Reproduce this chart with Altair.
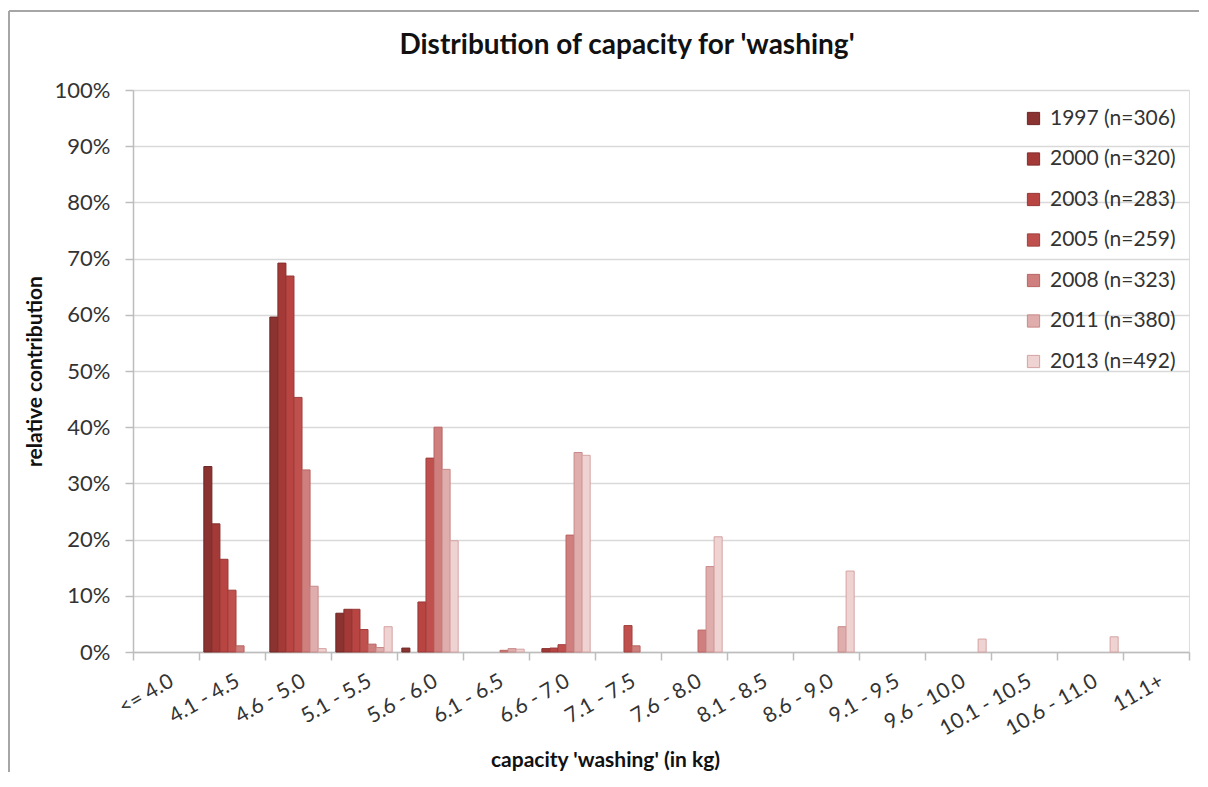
import altair as alt
import pandas as pd

categories = ["<= 4.0", "4.1 - 4.5", "4.6 - 5.0", "5.1 - 5.5", "5.6 - 6.0", "6.1 - 6.5",
              "6.6 - 7.0", "7.1 - 7.5", "7.6 - 8.0", "8.1 - 8.5", "8.6 - 9.0", "9.1 - 9.5",
              "9.6 - 10.0", "10.1 - 10.5", "10.6 - 11.0", "11.1+"]
series = ["1997 (n=306)", "2000 (n=320)", "2003 (n=283)", "2005 (n=259)",
          "2008 (n=323)", "2011 (n=380)", "2013 (n=492)"]

v1997 = [0, 33.0, 59.6, 6.9, 0.7, 0, 0, 0, 0, 0, 0, 0, 0, 0, 0, 0]
v2000 = [0, 22.8, 69.2, 7.6, 0, 0, 0.6, 0, 0, 0, 0, 0, 0, 0, 0, 0]
v2003 = [0, 16.5, 66.9, 7.6, 8.9, 0, 0.7, 0, 0, 0, 0, 0, 0, 0, 0, 0]
v2005 = [0, 11.0, 45.3, 4.0, 34.5, 0, 1.3, 4.7, 0, 0, 0, 0, 0, 0, 0, 0]
v2008 = [0, 1.1, 32.4, 1.4, 40.0, 0.3, 20.8, 1.1, 3.9, 0, 0, 0, 0, 0, 0, 0]
v2011 = [0, 0, 11.7, 0.8, 32.5, 0.6, 35.5, 0, 15.2, 0, 4.5, 0, 0, 0, 0, 0]
v2013 = [0, 0, 0.6, 4.5, 19.8, 0.5, 35.0, 0, 20.5, 0, 14.4, 0, 2.3, 0, 2.7, 0]

fills = ["#8a3331", "#a33a38", "#b94543", "#c0504d", "#cf7f7d", "#deadac", "#efd3d2"]
strokes = ["#6e2625", "#842e2c", "#973735", "#9e403e", "#b86563", "#c88a89", "#d4a3a2"]

all_values = [v1997, v2000, v2003, v2005, v2008, v2011, v2013]
rows = []
for s, vals in zip(series, all_values):
    for c, v in zip(categories, vals):
        if v > 0:
            rows.append({"category": c, "series": s, "value": v})
df = pd.DataFrame(rows)

FONT = "Lato"

bars = alt.Chart(df).mark_bar(strokeWidth=1).encode(
    x=alt.X("category:N", sort=categories,
            scale=alt.Scale(domain=categories, paddingInner=0, paddingOuter=0),
            axis=alt.Axis(title="capacity 'washing' (in kg)", labelAngle=-30,
                          labelAlign="right", labelBaseline="top", labelPadding=10,
                          labelFont=FONT, labelFontSize=21, labelColor="#333333",
                          labelOverlap=False, tickBand="extent", tickSize=8,
                          tickColor="#bdbdbd", tickWidth=1.5, domainColor="#bdbdbd",
                          domainWidth=1.5, grid=False,
                          titleFont=FONT, titleFontSize=21, titleFontWeight="bold",
                          titleColor="#111111", titleX=472, titleY=118,
                          titleAlign="center", titleBaseline="bottom")),
    xOffset=alt.XOffset("series:N", sort=series,
                        scale=alt.Scale(domain=series, paddingInner=0, paddingOuter=0.6)),
    y=alt.Y("value:Q", scale=alt.Scale(domain=[0, 100]),
            axis=alt.Axis(title="relative contribution", values=list(range(0, 101, 10)),
                          labelExpr="datum.value + '%'", labelFont=FONT, labelFontSize=22,
                          labelColor="#333333", labelPadding=15, tickSize=8,
                          tickColor="#bdbdbd", tickWidth=1.5, domainColor="#bdbdbd",
                          domainWidth=1.5, gridColor="#d9d9d9", gridWidth=1.5,
                          titleFont=FONT, titleFontSize=21, titleFontWeight="bold",
                          titleColor="#111111", titleX=-98, titleY=281,
                          titleBaseline="middle", titleAlign="center")),
    color=alt.Color("series:N", sort=series,
                    scale=alt.Scale(domain=series, range=fills),
                    legend=alt.Legend(title=None, orient="none", legendX=890, legendY=18,
                                      symbolType="square", symbolSize=150,
                                      symbolStrokeWidth=1, labelFont=FONT,
                                      labelFontSize=21, labelColor="#333333",
                                      rowPadding=18.5, labelOffset=6)),
    stroke=alt.Stroke("series:N", sort=series,
                      scale=alt.Scale(domain=series, range=strokes)),
)

border = alt.Chart(pd.DataFrame({"k": [0]})).mark_rule(color="#a6a6a6", strokeWidth=2).encode(
    x=alt.value(-124), x2=alt.value(1070), y=alt.value(-79))
border_left = alt.Chart(pd.DataFrame({"k": [0]})).mark_rule(color="#a6a6a6", strokeWidth=2).encode(
    x=alt.value(-124), y=alt.value(-79), y2=alt.value(690))

chart = alt.layer(bars, border, border_left).properties(
    width=1056, height=562,
    title=alt.TitleParams("Distribution of capacity for 'washing'", font=FONT, fontSize=28,
                          fontWeight="bold", color="#111111", anchor="middle",
                          frame="group", dx=-34, offset=-72, baseline="alphabetic"),
    autosize=alt.AutoSizeParams(type="none"),
    padding={"left": 125, "top": 82, "right": 10, "bottom": 120},
).configure_view(stroke=None).configure(background="white")

chart.save("out.html", embed_options={"renderer": "svg", "actions": False})
